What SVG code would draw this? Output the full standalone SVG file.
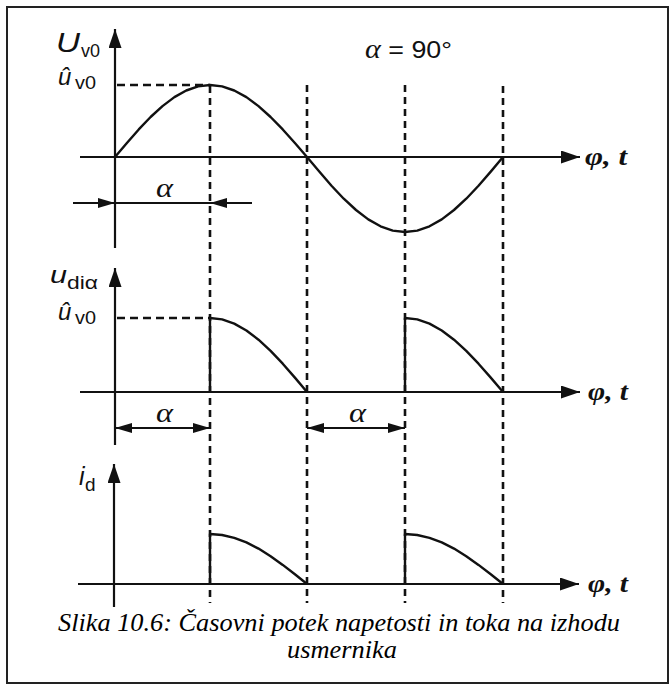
<svg xmlns="http://www.w3.org/2000/svg" width="670" height="684" viewBox="0 0 670 684">
<style>
.ax{stroke:#111;stroke-width:2.2;fill:none}
.cv{stroke:#111;stroke-width:2.4;fill:none;stroke-linejoin:round}
.dv{stroke:#111;stroke-width:2.6;stroke-dasharray:7 5;fill:none}
.dh{stroke:#111;stroke-width:2.4;stroke-dasharray:8 5;fill:none}
.sym{font-family:"Liberation Sans",Arial,sans-serif;fill:#111}
.it{font-style:italic}
.ser{font-family:"Liberation Serif","Times New Roman",serif;fill:#111}
.cap{font-family:"Liberation Serif","Times New Roman",serif;font-style:italic;font-size:25px;fill:#000}
</style>
<defs>
<marker id="ah" markerUnits="userSpaceOnUse" markerWidth="19" markerHeight="13" refX="19" refY="6.5" orient="auto">
<path d="M0,0 L19,6.5 L0,13 z" fill="#111"/>
</marker>
<marker id="sa" markerUnits="userSpaceOnUse" markerWidth="17" markerHeight="10" refX="17" refY="5" orient="auto-start-reverse">
<path d="M0,0 L17,5 L0,10 z" fill="#111"/>
</marker>
</defs>
<rect x="0" y="0" width="670" height="684" fill="#fff"/>
<rect id="frame" x="7" y="7" width="661" height="676" fill="none" stroke="#222" stroke-width="2"/>

<g id="dashed-guides">
<line class="dv" x1="210" y1="86" x2="210" y2="603"/>
<line class="dv" x1="307" y1="85" x2="307" y2="603"/>
<line class="dv" x1="405" y1="85" x2="405" y2="603"/>
<line class="dv" x1="503" y1="86" x2="503" y2="603"/>
<line class="dh" x1="117" y1="85" x2="210" y2="85"/>
<line class="dh" x1="117" y1="318" x2="210" y2="318"/>
</g>

<g id="graph-top">
<line class="ax" x1="115" y1="248" x2="115" y2="29" marker-end="url(#ah)"/>
<line class="ax" x1="80" y1="157" x2="580" y2="157" marker-end="url(#ah)"/>
<polyline class="cv" points="115,157 126.9,142.95 138.75,129.45 150.6,117 162.5,106.1 174.4,97.1 186.25,90.5 198.1,86.4 210,85 222.1,86.4 234.25,90.5 246.4,97.1 258.5,106.1 270.6,117 282.75,129.45 294.9,142.95 307,157 319.25,171.6 331.5,185.7 343.75,198.7 356,210 368.25,219.4 380.5,226.3 392.75,230.6 405,232 417.25,230.6 429.5,226.3 441.75,219.4 454,210 466.25,198.7 478.5,185.7 490.75,171.6 503,157"/>
<line class="ax" x1="115" y1="203" x2="210" y2="203"/>
<line class="ax" x1="73" y1="203" x2="115" y2="203" marker-end="url(#sa)"/>
<line class="ax" x1="252" y1="203" x2="210" y2="203" marker-end="url(#sa)"/>
<text class="ser it" x="156" y="197" font-size="27" textLength="17" lengthAdjust="spacingAndGlyphs">α</text>
<text class="sym it" x="56" y="52" font-size="27" textLength="24" lengthAdjust="spacingAndGlyphs">U</text>
<text class="sym" x="81" y="57" font-size="18" textLength="19" lengthAdjust="spacingAndGlyphs">v0</text>
<text class="sym it" x="58" y="85" font-size="24">û</text>
<text class="sym" x="75" y="89" font-size="18" textLength="21" lengthAdjust="spacingAndGlyphs">v0</text>
<text x="365" y="58" textLength="87" lengthAdjust="spacingAndGlyphs"><tspan class="ser it" font-size="27">α</tspan><tspan class="sym" font-size="24"> = 90°</tspan></text>
<text class="ser it" x="585" y="165" font-size="26" font-weight="bold" textLength="42" lengthAdjust="spacingAndGlyphs">φ, t</text>
</g>

<g id="graph-middle">
<line class="ax" x1="115" y1="445" x2="115" y2="268" marker-end="url(#ah)"/>
<line class="ax" x1="80" y1="392" x2="580" y2="392" marker-end="url(#ah)"/>
<polyline class="cv" points="210,392 210,318 222.1,319.4 234.25,323.6 246.4,330.5 258.5,339.7 270.6,350.9 282.75,363.7 294.9,377.6 307,392"/>
<polyline class="cv" points="405,392 405,318 417.25,319.4 429.5,323.6 441.75,330.5 454,339.7 466.25,350.9 478.5,363.7 490.75,377.6 503,392"/>
<line class="ax" x1="115" y1="428" x2="210" y2="428" marker-start="url(#sa)" marker-end="url(#sa)"/>
<line class="ax" x1="307" y1="428" x2="405" y2="428" marker-start="url(#sa)" marker-end="url(#sa)"/>
<text class="ser it" x="156" y="422" font-size="27" textLength="17" lengthAdjust="spacingAndGlyphs">α</text>
<text class="ser it" x="349" y="422" font-size="27" textLength="17" lengthAdjust="spacingAndGlyphs">α</text>
<text class="sym it" x="50" y="283" font-size="24" textLength="17" lengthAdjust="spacingAndGlyphs">u</text>
<text class="sym" x="67" y="289" font-size="19" textLength="31" lengthAdjust="spacingAndGlyphs">diα</text>
<text class="sym it" x="58" y="320" font-size="24">û</text>
<text class="sym" x="75" y="324" font-size="18" textLength="21" lengthAdjust="spacingAndGlyphs">v0</text>
<text class="ser it" x="588" y="400" font-size="26" font-weight="bold" textLength="40" lengthAdjust="spacingAndGlyphs">φ, t</text>
</g>

<g id="graph-bottom">
<line class="ax" x1="114" y1="607" x2="114" y2="464" marker-end="url(#ah)"/>
<line class="ax" x1="78" y1="584" x2="579" y2="584" marker-end="url(#ah)"/>
<polyline class="cv" points="210,584 210,534 222.1,535 234.25,537.8 246.4,542.4 258.5,548.6 270.6,556.2 282.75,564.9 294.9,574.25 307,584"/>
<polyline class="cv" points="405,584 405,534 417.25,535 429.5,537.8 441.75,542.4 454,548.6 466.25,556.2 478.5,564.9 490.75,574.25 503,584"/>
<text class="sym it" x="79" y="485" font-size="25">i</text>
<text class="sym" x="85" y="491" font-size="19">d</text>
<text class="ser it" x="588" y="592" font-size="26" font-weight="bold" textLength="40" lengthAdjust="spacingAndGlyphs">φ, t</text>
</g>

<g id="caption">
<text class="cap" x="58" y="631" textLength="562" lengthAdjust="spacingAndGlyphs">Slika 10.6: Časovni potek napetosti in toka na izhodu</text>
<text class="cap" x="287" y="658" textLength="110" lengthAdjust="spacingAndGlyphs">usmernika</text>
</g>
</svg>
